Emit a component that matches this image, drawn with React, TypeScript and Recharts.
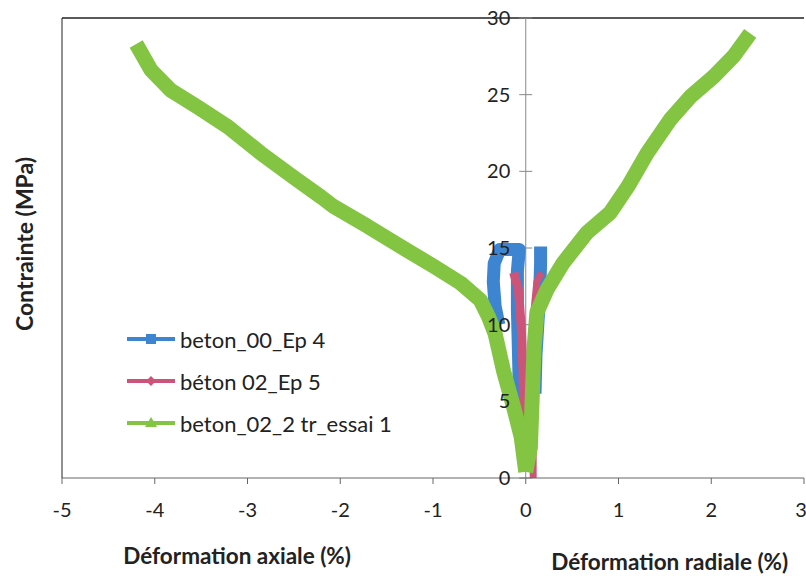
import React from 'react';
import { LineChart, Line, XAxis, YAxis, ReferenceLine, Legend, Label } from 'recharts';

const xTicks = [-5, -4, -3, -2, -1, 0, 1, 2, 3];
const yTicks = [0, 5, 10, 15, 20, 25, 30];

const seriesNames = ['beton_00_Ep 4', 'béton 02_Ep 5', 'beton_02_2 tr_essai 1'];
const seriesColors = ['#3d85d1', '#cc5479', '#84c443'];

// beton_00_Ep 4
const blueAxial = [
  { x: -0.06, y: 3.8 }, { x: -0.07, y: 6 }, { x: -0.08, y: 8.5 }, { x: -0.09, y: 11 },
  { x: -0.09, y: 13.5 }, { x: -0.07, y: 14.9 }, { x: -0.28, y: 14.9 }, { x: -0.34, y: 14.0 },
  { x: -0.35, y: 12.8 }, { x: -0.33, y: 11.2 }, { x: -0.29, y: 10.0 },
];
const blueRadial = [
  { x: 0.1, y: 5.5 }, { x: 0.11, y: 8 }, { x: 0.13, y: 10 }, { x: 0.15, y: 12 },
  { x: 0.16, y: 14 }, { x: 0.16, y: 15.1 },
];

// béton 02_Ep 5
const redAxial = [
  { x: 0, y: 0.5 }, { x: -0.02, y: 4 }, { x: -0.03, y: 7 }, { x: -0.05, y: 10 },
  { x: -0.08, y: 12.3 }, { x: -0.13, y: 13.4 },
];
const redRadial = [
  { x: 0.08, y: 0 }, { x: 0.08, y: 4 }, { x: 0.085, y: 8 }, { x: 0.09, y: 11 },
  { x: 0.12, y: 12.8 }, { x: 0.17, y: 13.4 },
];

// beton_02_2 tr_essai 1
const greenAxial = [
  { x: -4.2, y: 28.3 }, { x: -4.04, y: 26.6 }, { x: -3.83, y: 25.3 }, { x: -3.54, y: 24.2 },
  { x: -3.21, y: 22.9 }, { x: -2.86, y: 21.2 }, { x: -2.5, y: 19.6 }, { x: -2.2, y: 18.3 },
  { x: -2.07, y: 17.7 }, { x: -1.7, y: 16.4 }, { x: -1.35, y: 15.1 }, { x: -0.99, y: 13.8 },
  { x: -0.7, y: 12.7 }, { x: -0.49, y: 11.6 }, { x: -0.4, y: 10.5 }, { x: -0.33, y: 9.4 },
  { x: -0.24, y: 7.0 }, { x: -0.13, y: 4.6 }, { x: -0.05, y: 2.7 }, { x: 0, y: 0.4 },
];
const greenRadial = [
  { x: 0, y: 0.4 }, { x: 0.05, y: 2.0 }, { x: 0.07, y: 5.3 }, { x: 0.09, y: 8.5 },
  { x: 0.12, y: 10.8 }, { x: 0.23, y: 12.3 }, { x: 0.4, y: 14.0 }, { x: 0.66, y: 16.0 },
  { x: 0.91, y: 17.3 }, { x: 1.1, y: 19.0 }, { x: 1.31, y: 21.2 }, { x: 1.56, y: 23.4 },
  { x: 1.78, y: 24.9 }, { x: 2.03, y: 26.2 }, { x: 2.24, y: 27.5 }, { x: 2.42, y: 29.0 },
];

const font = 'Lato, sans-serif';
const textColor = '#222';

const Marker = ({ index, color }: { index: number; color: string }) => {
  if (index === 0) return <rect x={19} y={3} width={10} height={10} fill={color} />;
  if (index === 1) return <polygon points="24,3 29,8 24,13 19,8" fill={color} />;
  return <polygon points="24,2 30,12 18,12" fill={color} />;
};

const renderLegend = () => (
  <div style={{ fontFamily: font, fontSize: 22, color: textColor }}>
    {seriesNames.map((name, i) => (
      <div key={name} style={{ display: 'flex', alignItems: 'center', height: 42 }}>
        <svg width={50} height={16}>
          <line x1={0} y1={8} x2={48} y2={8} stroke={seriesColors[i]} strokeWidth={4} />
          <Marker index={i} color={seriesColors[i]} />
        </svg>
        <span style={{ marginLeft: 3, whiteSpace: 'nowrap' }}>{name}</span>
      </div>
    ))}
  </div>
);

const XTitles = (props: any) => {
  const { x, y, width } = props.viewBox;
  return (
    <g fontFamily={font} fontSize={22.5} fontWeight="bold" fill={textColor} textAnchor="middle">
      <text x={x + width * 0.236} y={y + 86}>Déformation axiale (%)</text>
      <text x={x + width * 0.819} y={y + 92}>Déformation radiale (%)</text>
    </g>
  );
};

const YTitle = (props: any) => {
  const { y, height } = props.viewBox;
  const cy = y + height / 2 - 4;
  return (
    <text
      x={33}
      y={cy}
      transform={`rotate(-90, 33, ${cy})`}
      textAnchor="middle"
      fontFamily={font}
      fontSize={23}
      fontWeight="bold"
      fill={textColor}
    >
      Contrainte (MPa)
    </text>
  );
};

const App = () => {
  return (
    <div style={{ position: 'absolute', left: 0, top: 0, background: '#fff' }}>
      <LineChart width={806} height={578} margin={{ top: 18, right: 2, left: 0, bottom: 0 }}>
        <XAxis
          dataKey="x"
          type="number"
          domain={[-5, 3]}
          ticks={xTicks}
          allowDataOverflow
          height={100}
          stroke="#666"
          tickSize={6}
          tickMargin={19}
          tick={{ fontSize: 20, fill: textColor, fontFamily: font }}
        >
          <Label content={<XTitles />} />
        </XAxis>
        <YAxis
          type="number"
          domain={[0, 30]}
          ticks={yTicks}
          allowDataOverflow
          width={62}
          stroke="#222"
          tick={false}
          tickLine={false}
        >
          <Label content={<YTitle />} />
        </YAxis>
        <ReferenceLine y={30} stroke="#222" strokeWidth={1.5} />
        <ReferenceLine x={0} stroke="#888" />
        {yTicks.map((t) => (
          <ReferenceLine
            key={t}
            segment={[{ x: -0.07, y: t }, { x: 0.07, y: t }]}
            stroke="#888"
            ifOverflow="visible"
            label={{ value: String(t), position: 'left', offset: 9, fontSize: 20, fill: textColor, fontFamily: font }}
          />
        ))}
        <Line data={blueAxial} dataKey="y" name={seriesNames[0]} stroke={seriesColors[0]} strokeWidth={13} strokeLinejoin="round" dot={false} isAnimationActive={false} />
        <Line data={blueRadial} dataKey="y" name="blueRadial" stroke={seriesColors[0]} strokeWidth={13} strokeLinejoin="round" dot={false} legendType="none" isAnimationActive={false} />
        <Line data={redAxial} dataKey="y" name={seriesNames[1]} stroke={seriesColors[1]} strokeWidth={9} strokeLinejoin="round" dot={false} isAnimationActive={false} />
        <Line data={redRadial} dataKey="y" name="redRadial" stroke={seriesColors[1]} strokeWidth={7} strokeLinejoin="round" dot={false} legendType="none" isAnimationActive={false} />
        <Line data={greenAxial} dataKey="y" name={seriesNames[2]} stroke={seriesColors[2]} strokeWidth={15} strokeLinejoin="round" dot={false} isAnimationActive={false} />
        <Line data={greenRadial} dataKey="y" name="greenRadial" stroke={seriesColors[2]} strokeWidth={15} strokeLinejoin="round" dot={false} legendType="none" isAnimationActive={false} />
        <Legend
          layout="vertical"
          align="center"
          verticalAlign="middle"
          content={renderLegend}
          wrapperStyle={{ left: 127, top: 318, width: 340 }}
        />
      </LineChart>
    </div>
  );
};

export default App;
